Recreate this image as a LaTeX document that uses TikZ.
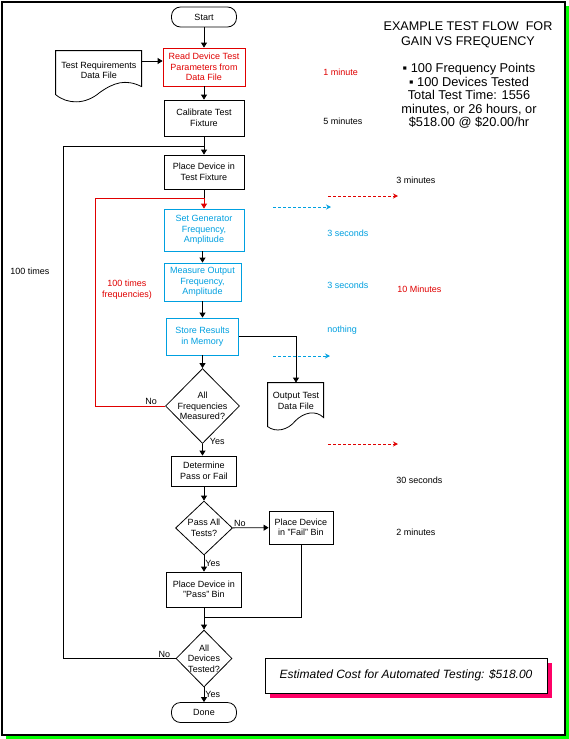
\documentclass[tikz,border=0pt]{standalone}
\usepackage{fontspec}
\setmainfont{Liberation Sans}
\usetikzlibrary{positioning, shapes.geometric, arrows.meta, shadows}
\definecolor{flowred}{RGB}{224,0,0}
\definecolor{flowblue}{RGB}{0,160,224}
\definecolor{shadowpink}{RGB}{255,0,102}
\definecolor{framegreen}{RGB}{0,255,0}
\newcommand{\flowfont}{\fontsize{9}{10.5}\selectfont}
\newcommand{\titlefont}{\fontsize{12.6}{15}\selectfont}
\newcommand{\infofont}{\fontsize{12.8}{13.5}\selectfont}
\tikzset{
    box/.style={draw, rectangle, align=center, inner sep=0pt, font=\flowfont},
    redbox/.style={box, draw=flowred, text=flowred},
    bluebox/.style={box, draw=flowblue, text=flowblue},
    term/.style={box, rounded corners=9pt, minimum width=65pt, minimum height=20pt},
    decision/.style={draw, diamond, align=center, inner sep=0pt, font=\flowfont},
    docfile/.style={rectangle, align=center, inner sep=0pt, font=\flowfont},
    lbl/.style={font=\flowfont, inner sep=1pt},
    timelbl/.style={font=\flowfont, anchor=west, inner sep=0pt},
    hint/.style={dash pattern=on 3pt off 2pt, -{Stealth[open, length=5pt, width=5pt]}}
}

\begin{document}
\begin{tikzpicture}[x=1pt, y=-1pt, line width=0.8pt, >={Triangle[length=5pt, width=6pt]}]
            \useasboundingbox (0,0) rectangle (569,739);
            \fill[framegreen] (6,6) rectangle (569,739);
            \draw[fill=white, line width=1.2pt] (2,2) rectangle (565,735);

            % flow column
            \node[term] (start) at (204,17) {Start};
            \node[redbox, minimum width=82pt, minimum height=38pt] (read) at (204,67) {Read Device Test\\Parameters from\\Data File};
            \node[docfile, minimum width=86pt, minimum height=39pt] (req) at (99,70.5) {Test Requirements\\Data File};
            \node[box, minimum width=80pt, minimum height=36pt] (cal) at (204,118) {Calibrate Test\\Fixture};
            \node[box, minimum width=80pt, minimum height=34pt] (place) at (204,172) {Place Device in\\Test Fixture};
            \node[bluebox, minimum width=80pt, minimum height=42pt] (setgen) at (204,230) {Set Generator\\Frequency,\\Amplitude};
            \node[bluebox, minimum width=77pt, minimum height=38pt] (measure) at (202.5,282) {Measure Output\\Frequency,\\Amplitude};
            \node[bluebox, minimum width=72pt, minimum height=37pt] (store) at (202.5,336.5) {Store Results\\in Memory};
            \node[decision, minimum width=74pt, minimum height=75pt, inner sep=-1pt] (freq) at (202.5,406) {All\\Frequencies\\Measured?};
            \node[docfile, minimum width=56pt, minimum height=36pt] (outdoc) at (296,401) {Output Test\\Data File};
            \node[box, minimum width=65pt, minimum height=30pt] (det) at (204,471) {Determine\\Pass or Fail};
            \node[decision, minimum width=57pt, minimum height=54pt] (passall) at (204,528) {Pass All\\Tests?};
            \node[box, minimum width=64pt, minimum height=33pt] (fail) at (301,527.5) {Place Device\\in "Fail" Bin};
            \node[box, minimum width=75pt, minimum height=35pt] (pass) at (204,589.5) {Place Device in\\"Pass" Bin};
            \node[decision, minimum width=56pt, minimum height=57pt, inner sep=-3pt] (devices) at (204,658.5) {All\\Devices\\Tested?};
            \node[term] (done) at (204,712.5) {Done};

            % file outlines
            \draw[shift={(req.north west)}] (0,0) -- (86,0) -- (86,36) .. controls (70,28) and (58,32) .. (44,42) .. controls (30,54) and (12,54) .. (0,44) -- cycle;
            \draw[shift={(outdoc.north west)}] (0,0) -- (56,0) -- (56,35) .. controls (48,27) and (36,30) .. (28,38) .. controls (20,48) and (8,50) .. (0,44) -- cycle;

            % connectors
            \coordinate (reqout) at ([yshift=9.5pt]req.east);
            \coordinate (outerjoin) at (204,146);
            \coordinate (outercorner) at (63,146);
            \coordinate (innerjoin) at (204,198);
            \coordinate (innercorner) at (95,198);
            \coordinate (merge) at (204,617);

            \draw[->] (start) -- (read);
            \draw[->] (reqout) -- (reqout -| read.west);
            \draw[->] (read) -- (cal);
            \draw[->] (cal) -- (place);
            \draw (devices.west) -| node[lbl, pos=0.05, above] {No} (outercorner) -- (outerjoin);
            \draw (place) -- (innerjoin);
            \draw[flowred, ->] (freq.west) -| node[lbl, pos=0.1, above, text=black] {No} (innercorner) -- (innerjoin) -- (setgen);
            \draw[->] (setgen.south -| measure) -- (measure);
            \draw[->] (measure) -- (store);
            \draw[->] (store.east) -| (outdoc.north);
            \draw[->] (store) -- (freq);
            \draw[->] (freq.south) -- node[lbl, pos=0, right=6pt, yshift=2pt] {Yes} (freq.south |- det.north);
            \draw[->] (det) -- (passall);
            \draw[->] (passall) -- node[lbl, pos=0.2, above] {No} (fail);
            \draw[->] (passall) -- node[lbl, midway, right] {Yes} (pass);
            \draw (fail) |- (merge);
            \draw[->] (pass) -- (devices);
            \draw[->] (devices) -- node[lbl, midway, right] {Yes} (done);

            % loop counts
            \node[lbl] (outer) at (30,271) {100 times};
            \node[lbl, text=flowred, align=center] (inner) at (127,289.5) {100 times\\frequencies)};

            % times
            \node[timelbl, text=flowred] (t1) at (323,72) {1 minute};
            \node[timelbl] (t2) at (323,121) {5 minutes};
            \node[timelbl] (t3) at (396,180) {3 minutes};
            \node[timelbl, text=flowblue] (t4) at (327,233) {3 seconds};
            \node[timelbl, text=flowblue] (t5) at (327,285) {3 seconds};
            \node[timelbl, text=flowred] (t6) at (397,289) {10 Minutes};
            \node[timelbl, text=flowblue] (t7) at (327,330) {nothing};
            \node[timelbl] (t8) at (396,480) {30 seconds};
            \node[timelbl] (t9) at (396,532) {2 minutes};

            \coordinate (ra1) at (328,196);
            \coordinate (rb1) at (398,196);
            \coordinate (ca1) at (273,207);
            \coordinate (cb1) at (331,207);
            \coordinate (ca2) at (273,356);
            \coordinate (cb2) at (330,356);
            \coordinate (ra2) at (328,444);
            \coordinate (rb2) at (398,444);
            \draw[hint, flowred] (ra1) -- (rb1);
            \draw[hint, flowblue] (ca1) -- (cb1);
            \draw[hint, flowblue] (ca2) -- (cb2);
            \draw[hint, flowred] (ra2) -- (rb2);

            % summary
            \node[font=\titlefont, align=center] (title) at (468,34.5) {EXAMPLE TEST FLOW \ FOR\\GAIN VS FREQUENCY};
            \node[font=\infofont, align=center] (info) at (469,96) {▪ 100 Frequency Points\\▪ 100 Devices Tested\\Total Test Time: 1556\\minutes, or 26 hours, or\\\$518.00 @ \$20.00/hr};
            \node[box, font=\fontsize{12}{14}\selectfont\itshape, minimum width=282pt, minimum height=35pt, fill=white,
                drop shadow={shadow xshift=5pt, shadow yshift=-5pt, fill=shadowpink, opacity=1}] (cost) at (406,675.5) {Estimated Cost for Automated Testing: \$518.00};
        \end{tikzpicture}
\end{document}
